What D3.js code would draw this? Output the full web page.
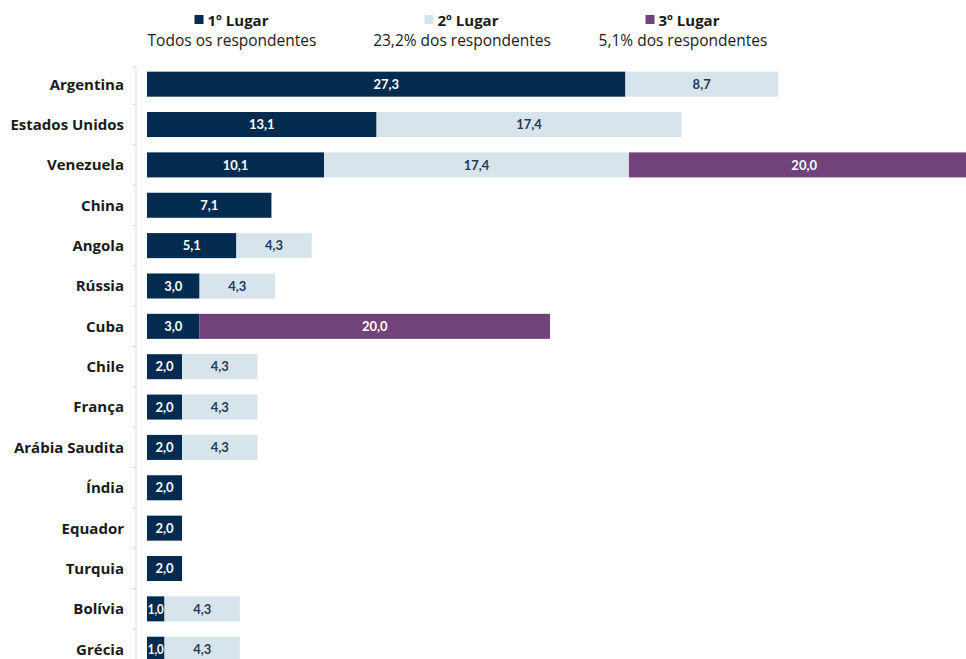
<!DOCTYPE html>
<html><head><meta charset="utf-8">
<script src="https://cdn.jsdelivr.net/npm/d3@7"></script>
<style>
html,body{margin:0;padding:0;background:#fff;}
svg{display:block;font-family:"Open Sans",Lato,sans-serif;}
</style></head>
<body>
<svg id="c" width="966" height="659"></svg>
<script>
const countries = ["Argentina","Estados Unidos","Venezuela","China","Angola","Rússia","Cuba","Chile","França","Arábia Saudita","Índia","Equador","Turquia","Bolívia","Grécia"];
const first  = [27.3,13.1,10.1,7.1,5.1,3.0,3.0,2.0,2.0,2.0,2.0,2.0,2.0,1.0,1.0];
const second = [8.7,17.4,17.4,0,4.3,4.3,0,4.3,4.3,4.3,0,0,0,4.3,4.3];
const third  = [0,0,20.0,0,0,0,20.0,0,0,0,0,0,0,0,0];
const seriesNames = ["1º Lugar","2º Lugar","3º Lugar"];
const seriesSub = ["Todos os respondentes","23,2% dos respondentes","5,1% dos respondentes"];

const colors = ["#032b4f","#d8e4ec","#71437a"];
const labelColors = ["#ffffff","#1f3a5c","#ffffff"];

const svg = d3.select("#c");
const x = d3.scaleLinear().domain([0,40]).range([147,848]);
const y = d3.scaleBand().domain(countries).range([64,64+15*40.36]).paddingInner(0.38).paddingOuter(0.19);

const data = countries.map((c,i)=>({country:c, vals:[first[i],second[i],third[i]]}));
const stack = d3.stack().keys([0,1,2]).value((d,k)=>d.vals[k]);
const layers = stack(data);

// axis line with ticks at band boundaries
const ax = svg.append("g");
const step = y.step();
const top0 = y(countries[0]) - (step - y.bandwidth())/2;
ax.append("line").attr("x1",136).attr("x2",136).attr("y1",top0+3).attr("y2",659)
  .attr("stroke","#d9d9d9").attr("stroke-width",1);
countries.forEach((c,i)=>{
  const yy = i===0 ? top0+3 : y(c) - (step - y.bandwidth())/2;
  ax.append("line").attr("x1",132).attr("x2",136).attr("y1",yy).attr("y2",yy)
    .attr("stroke","#d9d9d9").attr("stroke-width",1);
});

// category labels
svg.append("g").selectAll("text").data(countries).join("text")
  .attr("x",124).attr("y",d=>y(d)+y.bandwidth()/2).attr("dy","0.36em")
  .attr("text-anchor","end").attr("font-size",15).attr("font-weight",700).attr("fill","#1a1a1a")
  .text(d=>d);

// bars
layers.forEach((layer,k)=>{
  const g = svg.append("g");
  layer.forEach((seg)=>{
    const v = seg[1]-seg[0];
    if(v<=0) return;
    const yy = y(seg.data.country);
    g.append("rect").attr("x",x(seg[0])).attr("y",yy).attr("width",x(seg[1])-x(seg[0]))
      .attr("height",y.bandwidth()).attr("fill",colors[k]);
    const narrow = (x(seg[1])-x(seg[0]))<25;
    const t = g.append("text").attr("x",(x(seg[0])+x(seg[1]))/2).attr("y",yy+y.bandwidth()/2).attr("dy","0.36em")
      .attr("text-anchor","middle").attr("font-size",13).attr("font-weight",700)
      .style("font-family","Lato,sans-serif")
      .attr("fill",labelColors[k]).text(d3.format(".1f")(v).replace(".",","));
    if(narrow) t.attr("textLength",16).attr("lengthAdjust","spacingAndGlyphs");
  });
});

// legend
const legX = [232,462,683];
seriesNames.forEach((n,i)=>{
  const g = svg.append("g");
  const t = g.append("text").attr("x",legX[i]+6).attr("y",26).attr("text-anchor","middle")
    .attr("font-size",15).attr("font-weight",700).attr("fill","#1a1a1a").text(n);
  const w = t.node().getComputedTextLength();
  g.append("rect").attr("x",legX[i]+6-w/2-13).attr("y",15).attr("width",9).attr("height",9).attr("fill",colors[i]);
  g.append("text").attr("x",legX[i]).attr("y",46).attr("text-anchor","middle")
    .attr("font-size",15.5).attr("fill","#1a1a1a").text(seriesSub[i]);
});
</script>
</body></html>
